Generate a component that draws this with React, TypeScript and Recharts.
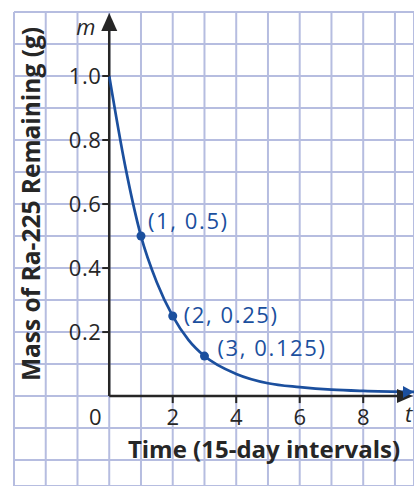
import React from 'react';
import { LineChart, Line, XAxis, YAxis, CartesianGrid, ReferenceLine, ReferenceDot } from 'recharts';

// background grid (graph paper)
const gridX = [-3, -2, -1, 0, 1, 2, 3, 4, 5, 6, 7, 8, 9];
const gridY = [1.2, 1.1, 1.0, 0.9, 0.8, 0.7, 0.6, 0.5, 0.4, 0.3, 0.2, 0.1, 0, -0.1, -0.2];

// axis ticks
const xTicks = [2, 4, 6, 8];
const xTickLabels = ['2', '4', '6', '8'];
const yTicks = [0.2, 0.4, 0.6, 0.8, 1.0];
const yTickLabels = ['0.2', '0.4', '0.6', '0.8', '1.0'];

// decay curve
const timeT = [0, 0.5, 1, 1.5, 2, 2.5, 3, 4, 5, 6, 7, 8, 9.6];
const massM = [1, 0.72, 0.5, 0.355, 0.25, 0.175, 0.125, 0.069, 0.04, 0.028, 0.02, 0.016, 0.013];

// labelled points
const markT = [1, 2, 3];
const markM = [0.5, 0.25, 0.125];
const markLabels = ['(1, 0.5)', '(2, 0.25)', '(3, 0.125)'];
const markOffsets = [
  { dx: 7, dy: -15 },
  { dx: 11, dy: -1 },
  { dx: 13, dy: -8 }
];

const data = timeT.map((t, i) => ({ t, m: massM[i] }));

const BLUE = '#1b4f9e';
const INK = '#262626';
const FONT = '"Open Sans", "DejaVu Sans", sans-serif';

export default function App() {
  return (
    <div style={{ position: 'absolute', top: 0, left: 0, width: 414, height: 486, background: '#fff' }}>
      <LineChart width={414} height={486} data={data} margin={{ top: 12, left: 14, right: 0, bottom: 0 }}>
        <XAxis dataKey='t' type='number' domain={[-3, 9.6]} ticks={gridX} hide allowDataOverflow />
        <YAxis type='number' domain={[-0.281, 1.2]} ticks={gridY} hide allowDataOverflow />
        <CartesianGrid stroke='#b6bde0' strokeWidth={2} />

        {/* axes */}
        <ReferenceLine segment={[{ x: 0, y: 0 }, { x: 0, y: 1.15 }]} stroke={INK} strokeWidth={2.5} />
        <ReferenceLine segment={[{ x: 0, y: 0 }, { x: 9.45, y: 0 }]} stroke={INK} strokeWidth={2.5} />
        <ReferenceDot
          x={0}
          y={1.2}
          shape={(p: any) => (
            <g>
              <polygon points={`${p.cx},${p.cy + 1} ${p.cx - 8},${p.cy + 19} ${p.cx + 8},${p.cy + 19}`} fill={INK} />
              <text x={p.cx - 33} y={p.cy + 23} fontFamily={FONT} fontStyle='italic' fontSize={22} fill={INK}>
                m
              </text>
            </g>
          )}
        />
        <ReferenceDot
          x={9.6}
          y={0}
          shape={(p: any) => (
            <g>
              <polygon points={`${p.cx - 1},${p.cy} ${p.cx - 17},${p.cy - 7} ${p.cx - 17},${p.cy + 7}`} fill={INK} />
              <text x={p.cx - 9} y={p.cy + 26} fontFamily={FONT} fontStyle='italic' fontSize={22} fill={INK}>
                t
              </text>
            </g>
          )}
        />
        <ReferenceDot
          x={0}
          y={0}
          shape={(p: any) => (
            <text x={p.cx - 14} y={p.cy + 29} textAnchor='middle' fontFamily={FONT} fontSize={22} fill={INK}>
              0
            </text>
          )}
        />
        {xTicks.map((v, i) => (
          <ReferenceDot
            key={'x' + v}
            x={v}
            y={0}
            shape={(p: any) => (
              <g>
                <line x1={p.cx} y1={p.cy} x2={p.cx} y2={p.cy + 7} stroke={INK} strokeWidth={2} />
                <text x={p.cx} y={p.cy + 29} textAnchor='middle' fontFamily={FONT} fontSize={22} fill={INK}>
                  {xTickLabels[i]}
                </text>
              </g>
            )}
          />
        ))}
        {yTicks.map((v, i) => (
          <ReferenceDot
            key={'y' + v}
            x={0}
            y={v}
            shape={(p: any) => (
              <g>
                <line x1={p.cx - 7} y1={p.cy} x2={p.cx} y2={p.cy} stroke={INK} strokeWidth={2} />
                <text
                  x={p.cx - 8}
                  y={p.cy + 8}
                  textAnchor='end'
                  fontFamily={FONT}
                  fontSize={22}
                  letterSpacing={0.5}
                  fill={INK}
                >
                  {yTickLabels[i]}
                </text>
              </g>
            )}
          />
        ))}

        <Line
          type='monotone'
          dataKey='m'
          stroke={BLUE}
          strokeWidth={2.7}
          dot={false}
          activeDot={false}
          isAnimationActive={false}
        />

        {/* arrow head at the end of the curve */}
        <ReferenceDot
          x={timeT[timeT.length - 1]}
          y={massM[massM.length - 1]}
          shape={(p: any) => (
            <polygon points={`${p.cx},${p.cy} ${p.cx - 11},${p.cy - 6} ${p.cx - 11},${p.cy + 6}`} fill={BLUE} />
          )}
        />

        {markT.map((t, i) => (
          <ReferenceDot
            key={'m' + t}
            x={t}
            y={markM[i]}
            shape={(p: any) => (
              <g>
                <circle cx={p.cx} cy={p.cy} r={4.5} fill={BLUE} />
                <text
                  x={p.cx + markOffsets[i].dx}
                  y={p.cy + markOffsets[i].dy + 8}
                  fontFamily={FONT}
                  fontSize={22}
                  letterSpacing={1.6}
                  fill={BLUE}
                >
                  {markLabels[i]}
                </text>
              </g>
            )}
          />
        ))}

        <text x={264} y={458} textAnchor='middle' fontFamily={FONT} fontWeight='bold' fontSize={24} fill={INK}>
          Time (15-day intervals)
        </text>
        <text
          x={0}
          y={0}
          transform='translate(40, 204) rotate(-90)'
          textAnchor='middle'
          fontFamily={FONT}
          fontWeight='bold'
          fontSize={24.5}
          fill={INK}
        >
          Mass of Ra-225 Remaining (g)
        </text>
      </LineChart>
    </div>
  );
}
